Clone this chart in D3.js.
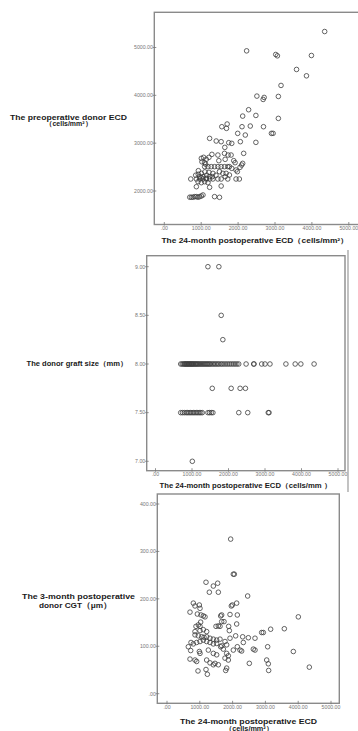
<!DOCTYPE html>
<html><head><meta charset="utf-8">
<script src="https://cdn.jsdelivr.net/npm/d3@7"></script>
<style>
html,body{margin:0;padding:0;background:#fff;}
svg{display:block;}
</style></head>
<body>
<svg id="chart" width="358" height="731"></svg>
<script>
// ---------- DATA ----------
const xTicks = [0, 1000, 2000, 3000, 4000, 5000];
const xTickLabels = [".00", "1000.00", "2000.00", "3000.00", "4000.00", "5000.00"];

// Panel 1: 24-month postoperative ECD vs preoperative donor ECD
const p1Ticks = [2000, 3000, 4000, 5000];
const p1TickLabels = ["2000.00", "3000.00", "4000.00", "5000.00"];
const p1ECD24 = [4346,2231,3020,3065,3987,3584,3853,3163,2509,2706,2679,3091,2285,2124,2482,3091,1559,1703,1685,2106,2330,2688,1989,2195,2903,2948,1228,1407,1541,1747,1828,2061,2482,1640,1290,1452,1631,1729,1810,2151,1004,1066,1138,1210,1093,1478,1649,1882,1918,2124,2097,1093,1183,1272,1362,1452,1541,1631,1720,1765,1828,1944,1980,2052,923,1004,1210,1317,1496,1586,1676,1765,960,1050,1140,1230,717,869,959,1048,1138,1228,1317,1452,1541,1720,1944,2034,914,1004,1093,1183,869,1228,1541,690,735,780,825,869,914,959,1004,1048,1362,1496,850,920,1000,1100,1150,1300,1400,1650,1020,1120];
const p1PreECD = [5334,4930,4854,4826,4833,4541,4408,4207,3984,3956,3914,3977,3699,3566,3580,3518,3344,3400,3309,3344,3358,3344,3205,3170,3205,3205,3100,3045,3031,3010,2996,3031,3017,2912,2766,2752,2787,2752,2752,2787,2683,2704,2662,2704,2592,2634,2662,2634,2592,2578,2543,2509,2509,2509,2509,2509,2509,2509,2509,2509,2474,2439,2404,2495,2425,2369,2390,2369,2404,2369,2369,2334,2300,2300,2265,2300,2251,2251,2251,2251,2251,2251,2251,2251,2251,2251,2251,2251,2195,2174,2195,2174,2090,2077,2104,1870,1870,1870,1882,1882,1870,1882,1896,1917,1882,1868,2330,2350,2280,2400,2330,2300,2330,2300,2610,2560];

// Panel 2: 24-month postoperative ECD vs donor graft size
const p2Ticks = [7.0, 7.5, 8.0, 8.5, 9.0];
const p2TickLabels = ["7.00", "7.50", "8.00", "8.50", "9.00"];
const p2ECD24 = [1436,1736,1800,1845,
 691,730,760,790,810,830,850,870,890,910,930,950,970,990,1010,1030,1050,1080,1100,1120,1150,1170,1200,1230,1260,1290,1320,1350,1380,1410,1440,1470,1500,1540,1580,1620,1660,1700,1740,1790,1830,1880,1930,1980,2030,2080,2130,2180,2230,2280,2482,2690,2700,2909,3000,3136,3573,3827,3982,4345,
 1555,2073,2318,2464,
 691,740,790,840,880,920,960,1000,1040,1080,1120,1160,1200,1240,1282,1436,1480,1530,1573,2282,2527,3090,3110,
 1009];
const p2Size = [9.0,9.0,8.5,8.25,
 8,8,8,8,8,8,8,8,8,8,8,8,8,8,8,8,8,8,8,8,8,8,8,8,8,8,8,8,8,8,8,8,8,8,8,8,8,8,8,8,8,8,8,8,8,8,8,8,8,8,8,8,8,8,8,8,8,8,8,8,
 7.75,7.75,7.75,7.75,
 7.5,7.5,7.5,7.5,7.5,7.5,7.5,7.5,7.5,7.5,7.5,7.5,7.5,7.5,7.5,7.5,7.5,7.5,7.5,7.5,7.5,7.5,7.5,
 7.0];

// Panel 3: 24-month postoperative ECD vs 3-month postoperative donor CGT
const p3Ticks = [0, 100, 200, 300, 400];
const p3TickLabels = [".00", "100.00", "200.00", "300.00", "400.00"];
const p3ECD24 = [1941,2022,2053,1189,1413,1545,1291,1565,2459,1961,1992,2124,803,854,986,1006,701,925,1037,1108,1159,1636,1667,1921,2144,4004,884,955,1006,1026,1494,1565,1616,1880,2124,854,1006,1108,1209,1667,1738,1900,3577,3160,2886,2936,854,955,1057,1128,1209,1311,1413,1514,1616,1921,2093,2307,2480,2683,732,803,904,1006,1108,1209,1311,1413,1514,1667,1819,1768,2327,2022,2144,2226,2276,2632,2683,3069,650,722,986,1006,1260,1413,1514,1636,1717,1819,1870,3852,701,854,904,1209,1311,1463,1768,1870,3039,3089,2510,4339,945,1189,1230,1819,1789,3099,1413,1565];
const p3CGT = [326,252,252,235,227,233,214,214,206,185,187,191,191,185,187,180,172,168,166,164,162,164,166,167,166,162,142,145,142,151,142,143,142,142,147,131,133,135,131,152,152,133,137,136,129,129,124,122,120,119,120,117,115,113,115,117,122,120,118,117,108,105,108,110,113,110,108,105,106,101,103,110,108,92,99,92,90,94,92,99,99,91,89,85,92,85,82,99,94,85,80,89,73,71,68,71,65,64,75,71,71,63,64,56,48,51,41,54,49,49,61,61];

// ---------- DRAWING ----------
const svg = d3.select("#chart");
const FONT = "'Liberation Sans', Arial, sans-serif";
const frameColor = "#8a8a8a";

function panel(cfg) {
  const g = svg.append("g");
  const x = d3.scaleLinear().domain([0, 5000]).range(cfg.xRange);
  const y = d3.scaleLinear().domain(cfg.yDomain).range(cfg.yRange);
  const f = cfg.frame; // [left, top, right, bottom]
  g.append("rect").attr("x", f[0]).attr("y", f[1]).attr("width", f[2] - f[0]).attr("height", f[3] - f[1])
    .attr("fill", "none").attr("stroke", frameColor).attr("stroke-width", 1.4);
  cfg.yTicks.forEach((t, i) => {
    g.append("line").attr("x1", f[0] - 1.5).attr("x2", f[0] + 2).attr("y1", y(t)).attr("y2", y(t))
      .attr("stroke", "#777").attr("stroke-width", 0.8);
    g.append("text").attr("x", f[0] - 1.5).attr("y", y(t) + 1.8).attr("text-anchor", "end")
      .attr("font-family", FONT).attr("font-size", 5.2).attr("fill", "#777").text(cfg.yTickLabels[i]);
  });
  xTicks.forEach((t, i) => {
    g.append("line").attr("x1", x(t)).attr("x2", x(t)).attr("y1", f[3] - 2.5).attr("y2", f[3] + 1)
      .attr("stroke", "#777").attr("stroke-width", 0.8);
    g.append("text").attr("x", x(t)).attr("y", f[3] + 5.5).attr("text-anchor", "middle")
      .attr("font-family", FONT).attr("font-size", 5.2).attr("fill", "#777").text(xTickLabels[i]);
  });
  g.append("g").selectAll("circle").data(d3.range(cfg.xs.length)).join("circle")
    .attr("cx", i => x(cfg.xs[i])).attr("cy", i => y(cfg.ys[i])).attr("r", 2.3)
    .attr("fill", "none").attr("stroke", "#3c3c3c").attr("stroke-width", 0.8);
  cfg.titles.forEach(tt => {
    const t = g.append("text").attr("x", tt.x).attr("y", tt.y).attr("text-anchor", "middle")
      .attr("font-family", FONT).attr("font-weight", "bold").attr("font-size", tt.size || 7)
      .attr("fill", "#1a1a1a").text(tt.text);
    if (tt.w) t.attr("textLength", tt.w).attr("lengthAdjust", "spacingAndGlyphs");
  });
}

panel({
  xRange: [164.3, 348.8], yDomain: [2000, 5000], yRange: [191, 47.5],
  frame: [154.3, 12.3, 359, 224.5],
  yTicks: p1Ticks, yTickLabels: p1TickLabels,
  xs: p1ECD24, ys: p1PreECD,
  titles: [
    {text: "The preoperative donor ECD", x: 68.5, y: 119.5, w: 117},
    {text: "（cells/mm²）", x: 68.5, y: 126.3, w: 47, size: 6.5},
    {text: "The 24-month postoperative ECD（cells/mm²）", x: 255, y: 243, w: 187}
  ]
});

panel({
  xRange: [155.5, 338], yDomain: [7, 9], yRange: [461.3, 266.7],
  frame: [146.7, 255.7, 345, 470.7],
  yTicks: p2Ticks, yTickLabels: p2TickLabels,
  xs: p2ECD24, ys: p2Size,
  titles: [
    {text: "The donor graft size（mm）", x: 77, y: 366.3, w: 101},
    {text: "The 24-month postoperative ECD（cells/mm ）", x: 245.5, y: 487.5, w: 172}
  ]
});

panel({
  xRange: [167, 331], yDomain: [0, 400], yRange: [693.7, 504],
  frame: [157.3, 494, 339.3, 703.3],
  yTicks: p3Ticks, yTickLabels: p3TickLabels,
  xs: p3ECD24, ys: p3CGT,
  titles: [
    {text: "The 3-month postoperative", x: 78.5, y: 599.3, w: 113, size: 7.5},
    {text: "donor CGT（μm）", x: 75.5, y: 607.8, w: 73, size: 7.5},
    {text: "The 24-month postoperative ECD", x: 248.5, y: 723.8, w: 137, size: 8},
    {text: "（cells/mm²）", x: 249, y: 731, w: 48, size: 7}
  ]
});

svg.append("line").attr("x1", 348).attr("x2", 348).attr("y1", 250).attr("y2", 492)
  .attr("stroke", "#9a9a9a").attr("stroke-width", 1.2);
</script>
</body></html>
